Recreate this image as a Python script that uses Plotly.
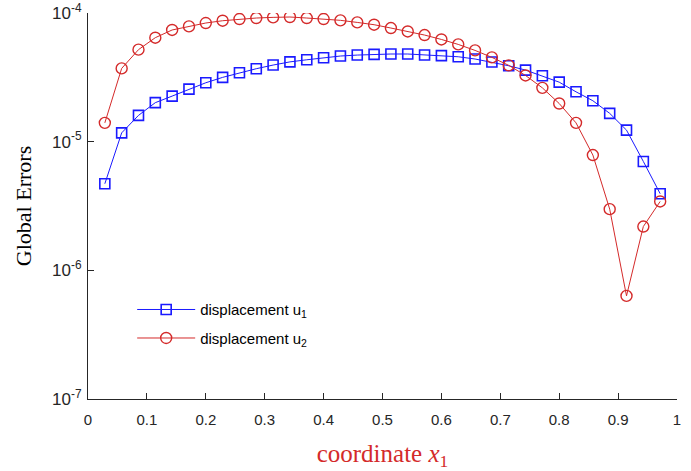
import plotly.graph_objects as go

x_vals = [k / 35 for k in range(1, 35)]

u1_err = [4.71e-6, 1.17e-5, 1.60e-5, 2.01e-5, 2.26e-5, 2.56e-5, 2.87e-5, 3.16e-5,
          3.43e-5, 3.69e-5, 3.94e-5, 4.17e-5, 4.33e-5, 4.49e-5, 4.63e-5, 4.71e-5,
          4.77e-5, 4.80e-5, 4.80e-5, 4.71e-5, 4.66e-5, 4.57e-5, 4.39e-5, 4.16e-5,
          3.89e-5, 3.60e-5, 3.25e-5, 2.90e-5, 2.44e-5, 2.08e-5, 1.66e-5, 1.23e-5,
          7.02e-6, 3.94e-6]

u2_err = [1.40e-5, 3.71e-5, 5.19e-5, 6.43e-5, 7.38e-5, 7.87e-5, 8.36e-5, 8.71e-5,
          8.98e-5, 9.14e-5, 9.25e-5, 9.31e-5, 9.14e-5, 8.98e-5, 8.77e-5, 8.45e-5,
          8.11e-5, 7.64e-5, 7.19e-5, 6.74e-5, 6.23e-5, 5.70e-5, 5.12e-5, 4.52e-5,
          3.92e-5, 3.27e-5, 2.62e-5, 1.98e-5, 1.40e-5, 7.87e-6, 2.99e-6, 6.33e-7,
          2.19e-6, 3.43e-6]

y_tickvals = [1e-7, 1e-6, 1e-5, 1e-4]
y_ticktext = ["10<sup>-7</sup>", "10<sup>-6</sup>", "10<sup>-5</sup>", "10<sup>-4</sup>"]
x_tickvals = [0, 0.1, 0.2, 0.3, 0.4, 0.5, 0.6, 0.7, 0.8, 0.9, 1]
x_ticktext = ["0", "0.1", "0.2", "0.3", "0.4", "0.5", "0.6", "0.7", "0.8", "0.9", "1"]

BLUE = "#1a1aff"
RED = "#d42a2a"
AXIS = "#262626"

fig = go.Figure()
fig.add_trace(go.Scatter(
    x=x_vals, y=u1_err, mode="lines+markers",
    name="displacement u<sub>1</sub>", legendgroup="a",
    line=dict(color=BLUE, width=1),
    marker=dict(symbol="square-open", size=10, color=BLUE, line=dict(width=1.6, color=BLUE)),
))
fig.add_trace(go.Scatter(
    x=x_vals, y=u2_err, mode="lines+markers",
    name="displacement u<sub>2</sub>", legendgroup="b",
    line=dict(color=RED, width=1),
    marker=dict(symbol="circle-open", size=11, color=RED, line=dict(width=1.4, color=RED)),
))

fig.update_layout(
    width=691, height=471,
    margin=dict(l=88, r=14, t=13, b=72),
    paper_bgcolor="white", plot_bgcolor="white",
    font=dict(family="Liberation Sans, Arial", size=15, color=AXIS),
    showlegend=True,
    legend=dict(
        x=0.075, y=0.274, xanchor="left", yanchor="top",
        bgcolor="rgba(0,0,0,0)", borderwidth=0,
        font=dict(family="Liberation Sans, Arial", size=15, color="#000000"),
        itemwidth=58, tracegroupgap=6,
    ),
    xaxis=dict(
        range=[0, 1], tickvals=x_tickvals, ticktext=x_ticktext, automargin=False,
        showline=True, linecolor=AXIS, linewidth=1, mirror=False,
        ticks="inside", ticklen=6, tickcolor=AXIS, showgrid=False, zeroline=False,
        ticklabelstandoff=7,
        tickfont=dict(family="Liberation Sans, Arial", size=15, color=AXIS),
        title=dict(text="coordinate <i>x</i><sub>1</sub>",
                   font=dict(family="Liberation Serif, Times New Roman", size=25, color=RED),
                   standoff=22),
    ),
    yaxis=dict(
        type="log", range=[-7, -4], tickvals=y_tickvals, ticktext=y_ticktext, automargin=False,
        showline=True, linecolor=AXIS, linewidth=1, mirror=False,
        ticks="inside", ticklen=6, tickcolor=AXIS, showgrid=False, zeroline=False,
        ticklabelstandoff=2,
        tickfont=dict(family="Liberation Sans, Arial", size=17, color=AXIS),
        title=dict(text="Global Errors",
                   font=dict(family="Liberation Serif, Times New Roman", size=22, color="#000000"),
                   standoff=14),
    ),
)

fig.write_html("out.html", config={"displayModeBar": False},
               post_script="document.body.style.margin='0px';")
